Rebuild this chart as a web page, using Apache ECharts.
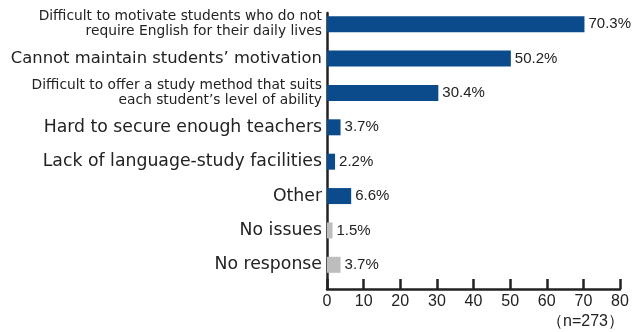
<!DOCTYPE html>
<html>
<head>
<meta charset="utf-8">
<script src="https://cdn.jsdelivr.net/npm/echarts@6/dist/echarts.min.js"></script>
<style>
  html, body { margin: 0; padding: 0; background: #fff; }
  #chart { width: 641px; height: 332px; }
</style>
</head>
<body>
<div id="chart"></div>
<script>
// Survey: issues in English education (multiple answers, n=273)
const categories = [
  'Difficult to motivate students who do not\nrequire English for their daily lives',
  'Cannot maintain students\u2019 motivation',
  'Difficult to offer a study method that suits\neach student\u2019s level of ability',
  'Hard to secure enough teachers',
  'Lack of language-study facilities',
  'Other',
  'No issues',
  'No response'
];
const values = [70.3, 50.2, 30.4, 3.7, 2.2, 6.6, 1.5, 3.7];
const barColors = ['#0b4b8c', '#0b4b8c', '#0b4b8c', '#0b4b8c', '#0b4b8c', '#0b4b8c', '#bdbdbd', '#bdbdbd'];
const xTicks = [0, 10, 20, 30, 40, 50, 60, 70, 80];
const sampleNote = '\uff08n=273\uff09';

// label style per row: s = small two-line, m = medium, b = regular
const labelStyles = ['s', 'm', 's', 'b', 'b', 'b', 'b', 'b'];
const FONT = '"Liberation Sans", Arial, Helvetica, sans-serif';
const WIDE = '"DejaVu Sans", "Liberation Sans", sans-serif';

const chart = echarts.init(document.getElementById('chart'));
chart.setOption({
  animation: false,
  backgroundColor: '#fff',
  textStyle: { fontFamily: FONT, color: '#222' },
  title: {
    text: sampleNote,
    right: 12,
    top: 309,
    textStyle: { fontFamily: FONT, fontSize: 16, fontWeight: 'normal', color: '#222' }
  },
  grid: [
    { left: 327, right: 21, top: 7, bottom: 50, containLabel: false, outerBoundsMode: 'none' },
    { left: 327, right: 21, top: 13, bottom: 43, containLabel: false, outerBoundsMode: 'none' }
  ],
  xAxis: [
    { gridIndex: 0, type: 'value', min: xTicks[0], max: xTicks[xTicks.length - 1], show: false },
    {
      gridIndex: 1, type: 'value',
      min: xTicks[0], max: xTicks[xTicks.length - 1], interval: xTicks[1] - xTicks[0],
      axisLine: { show: true, lineStyle: { color: '#222', width: 2.5 } },
      axisTick: { show: true, inside: true, length: 10, lineStyle: { color: '#222', width: 2.5 } },
      axisLabel: { margin: 5, fontSize: 16, color: '#222', fontFamily: FONT },
      splitLine: { show: false }
    }
  ],
  yAxis: [
    {
      gridIndex: 0, type: 'category', inverse: true, data: categories,
      axisLine: { show: false }, axisTick: { show: false },
      axisLabel: {
        margin: 5,
        formatter: function (v, i) {
          return '{' + labelStyles[i] + '|' + v + '}';
        },
        rich: {
          s: { fontSize: 13.8, lineHeight: 15, color: '#222', fontFamily: WIDE, align: 'right' },
          m: { fontSize: 16.4, color: '#222', fontFamily: WIDE },
          b: { fontSize: 17.3, color: '#222', fontFamily: WIDE }
        }
      }
    },
    {
      gridIndex: 1, type: 'value', min: 0, max: 1,
      axisLine: { show: true, lineStyle: { color: '#222', width: 2.5 } },
      axisTick: { show: false }, axisLabel: { show: false }, splitLine: { show: false }
    }
  ],
  series: [{
    type: 'bar',
    xAxisIndex: 0, yAxisIndex: 0,
    barWidth: 16,
    data: values.map((v, i) => ({ value: v, itemStyle: { color: barColors[i] } })),
    label: {
      show: true, position: 'right', distance: 4,
      formatter: p => p.value.toFixed(1) + '%',
      fontSize: 15, color: '#222', fontFamily: FONT
    }
  }]
});
</script>
</body>
</html>
